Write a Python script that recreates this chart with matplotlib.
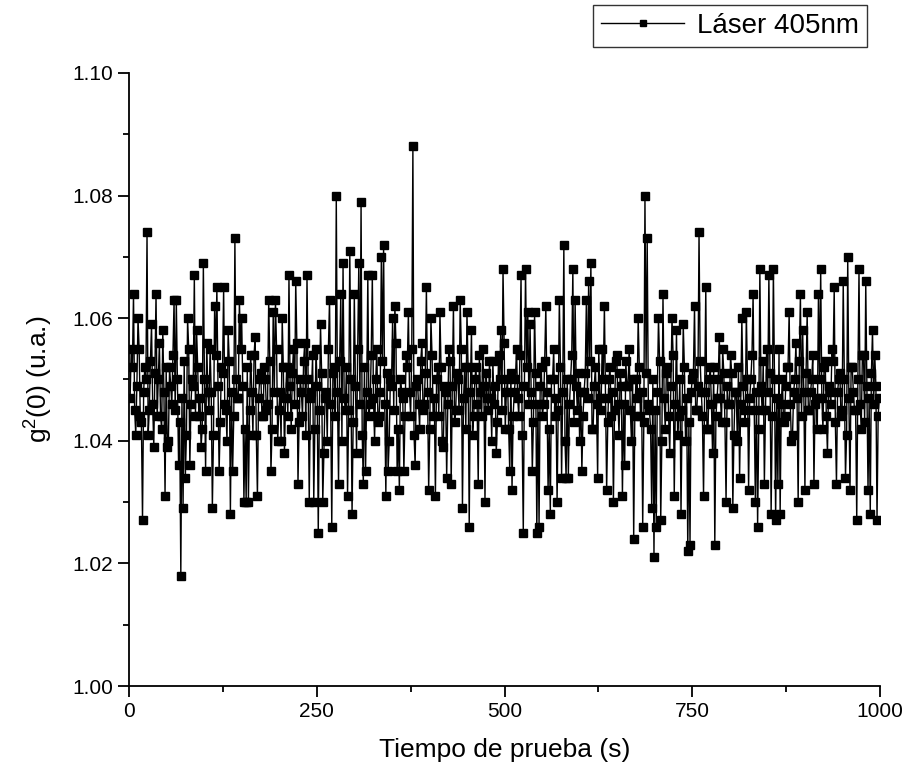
import numpy as np
import matplotlib
matplotlib.use("Agg")
import matplotlib.pyplot as plt
from matplotlib.ticker import MultipleLocator

plt.rcParams['font.family'] = ['Liberation Sans', 'DejaVu Sans']
plt.rcParams['mathtext.fontset'] = 'custom'
plt.rcParams['mathtext.rm'] = 'Liberation Sans'
plt.rcParams['mathtext.it'] = 'Liberation Sans'

# tiempo de prueba (s), una medida cada 1.5 s
tiempo = np.arange(1.5, 1000, 1.5)

g2 = [
    1.055, 1.064, 1.041, 1.060, 1.044, 1.027, 1.052, 1.074, 1.045, 1.059,
    1.039, 1.064, 1.050, 1.044, 1.058, 1.031, 1.039, 1.052, 1.046, 1.063,
    1.063, 1.036, 1.018, 1.029, 1.034, 1.060, 1.036, 1.050, 1.067, 1.058,
    1.044, 1.039, 1.069, 1.035, 1.048, 1.055, 1.029, 1.062, 1.065, 1.035,
    1.052, 1.065, 1.045, 1.058, 1.028, 1.035, 1.073, 1.047, 1.063, 1.060,
    1.030, 1.030, 1.030, 1.054, 1.041, 1.057, 1.031, 1.050, 1.044, 1.052,
    1.045, 1.063, 1.035, 1.061, 1.063, 1.040, 1.048, 1.060, 1.038, 1.052,
    1.067, 1.042, 1.055, 1.066, 1.033, 1.050, 1.044, 1.056, 1.067, 1.030,
    1.048, 1.030, 1.055, 1.025, 1.059, 1.030, 1.047, 1.040, 1.063, 1.026,
    1.052, 1.080, 1.033, 1.064, 1.069, 1.045, 1.031, 1.071, 1.028, 1.064,
    1.038, 1.069, 1.079, 1.033, 1.035, 1.067, 1.046, 1.067, 1.040, 1.055,
    1.044, 1.070, 1.072, 1.031, 1.035, 1.050, 1.060, 1.062, 1.035, 1.032,
    1.048, 1.035, 1.054, 1.061, 1.044, 1.088, 1.036, 1.050, 1.042, 1.056,
    1.046, 1.065, 1.032, 1.060, 1.044, 1.031, 1.052, 1.061, 1.040, 1.049,
    1.034, 1.055, 1.033, 1.062, 1.045, 1.050, 1.063, 1.029, 1.052, 1.061,
    1.026, 1.058, 1.044, 1.052, 1.033, 1.048, 1.055, 1.030, 1.047, 1.053,
    1.040, 1.046, 1.038, 1.054, 1.058, 1.068, 1.042, 1.050, 1.035, 1.032,
    1.048, 1.055, 1.044, 1.067, 1.025, 1.068, 1.061, 1.059, 1.035, 1.061,
    1.025, 1.026, 1.052, 1.046, 1.062, 1.032, 1.028, 1.050, 1.044, 1.030,
    1.063, 1.034, 1.072, 1.034, 1.034, 1.050, 1.068, 1.063, 1.045, 1.040,
    1.035, 1.048, 1.063, 1.066, 1.069, 1.042, 1.052, 1.034, 1.047, 1.055,
    1.062, 1.032, 1.050, 1.044, 1.030, 1.053, 1.046, 1.051, 1.031, 1.036,
    1.049, 1.055, 1.040, 1.024, 1.050, 1.060, 1.044, 1.026, 1.080, 1.073,
    1.045, 1.029, 1.021, 1.026, 1.060, 1.027, 1.064, 1.042, 1.052, 1.038,
    1.060, 1.031, 1.058, 1.044, 1.028, 1.059, 1.040, 1.022, 1.023, 1.050,
    1.062, 1.045, 1.074, 1.048, 1.031, 1.065, 1.042, 1.052, 1.038, 1.023,
    1.047, 1.057, 1.043, 1.051, 1.030, 1.046, 1.054, 1.029, 1.048, 1.040,
    1.034, 1.060, 1.045, 1.061, 1.032, 1.050, 1.064, 1.030, 1.026, 1.068,
    1.045, 1.033, 1.055, 1.067, 1.028, 1.068, 1.027, 1.033, 1.028, 1.050,
    1.044, 1.052, 1.061, 1.040, 1.048, 1.056, 1.030, 1.064, 1.058, 1.032,
    1.061, 1.045, 1.050, 1.033, 1.047, 1.064, 1.068, 1.042, 1.053, 1.038,
    1.048, 1.055, 1.065, 1.033, 1.050, 1.044, 1.066, 1.034, 1.070, 1.032,
    1.052, 1.045, 1.027, 1.068, 1.042, 1.054, 1.066, 1.032, 1.028, 1.058,
    1.054, 1.027, 1.047,
]

# medidas intermedias (t = 1.5, 4.5, 7.5 ... s), la banda central
g2_intermedio = [
    1.047, 1.052, 1.045, 1.049, 1.055, 1.043, 1.048, 1.050, 1.041, 1.053,
    1.046, 1.051, 1.044, 1.056, 1.042, 1.048, 1.052, 1.040, 1.049, 1.054,
    1.045, 1.050, 1.043, 1.047, 1.053, 1.041, 1.055, 1.046, 1.049, 1.044,
    1.052, 1.047, 1.042, 1.050, 1.056, 1.045, 1.048, 1.041, 1.054, 1.049,
    1.043, 1.051, 1.046, 1.040, 1.053, 1.048, 1.044, 1.050, 1.047, 1.055,
    1.049, 1.042, 1.052, 1.045, 1.048, 1.054, 1.041, 1.047, 1.051, 1.044,
    1.050, 1.046, 1.053, 1.042, 1.048, 1.055, 1.045, 1.040, 1.052, 1.047,
    1.044, 1.049, 1.051, 1.046, 1.056, 1.043, 1.048, 1.053, 1.041, 1.050,
    1.047, 1.054, 1.042, 1.049, 1.045, 1.051, 1.038, 1.048, 1.055, 1.046,
    1.051, 1.044, 1.048, 1.053, 1.040, 1.047, 1.052, 1.045, 1.050, 1.043,
    1.049, 1.055, 1.046, 1.041, 1.052, 1.048, 1.044, 1.054, 1.047, 1.050,
    1.043, 1.048, 1.053, 1.046, 1.051, 1.040, 1.049, 1.045, 1.056, 1.042,
    1.050, 1.047, 1.044, 1.052, 1.048, 1.055, 1.041, 1.049, 1.046, 1.053,
    1.045, 1.051, 1.048, 1.042, 1.054, 1.047, 1.050, 1.044, 1.052, 1.039,
    1.048, 1.046, 1.053, 1.049, 1.043, 1.051, 1.045, 1.055, 1.047, 1.042,
    1.052, 1.048, 1.041, 1.050, 1.046, 1.054, 1.044, 1.049, 1.051, 1.045,
    1.047, 1.053, 1.049, 1.043, 1.050, 1.045, 1.056, 1.048, 1.042, 1.051,
    1.044, 1.050, 1.047, 1.054, 1.041, 1.049, 1.052, 1.046, 1.048, 1.043,
    1.051, 1.046, 1.049, 1.044, 1.053, 1.048, 1.042, 1.050, 1.055, 1.047,
    1.045, 1.052, 1.048, 1.040, 1.050, 1.046, 1.054, 1.043, 1.049, 1.051,
    1.048, 1.044, 1.051, 1.047, 1.053, 1.042, 1.049, 1.046, 1.055, 1.045,
    1.050, 1.047, 1.043, 1.052, 1.048, 1.045, 1.054, 1.041, 1.049, 1.046,
    1.053, 1.049, 1.045, 1.050, 1.044, 1.047, 1.052, 1.048, 1.043, 1.051,
    1.046, 1.042, 1.050, 1.045, 1.048, 1.053, 1.040, 1.047, 1.051, 1.044,
    1.049, 1.054, 1.046, 1.041, 1.050, 1.045, 1.052, 1.047, 1.043, 1.048,
    1.051, 1.045, 1.049, 1.053, 1.044, 1.048, 1.042, 1.050, 1.046, 1.052,
    1.044, 1.050, 1.047, 1.055, 1.043, 1.049, 1.046, 1.051, 1.041, 1.048,
    1.052, 1.046, 1.049, 1.043, 1.050, 1.047, 1.054, 1.045, 1.048, 1.042,
    1.049, 1.053, 1.045, 1.048, 1.051, 1.044, 1.050, 1.047, 1.055, 1.046,
    1.043, 1.049, 1.052, 1.046, 1.041, 1.050, 1.047, 1.053, 1.044, 1.048,
    1.051, 1.045, 1.048, 1.054, 1.046, 1.042, 1.050, 1.047, 1.052, 1.044,
    1.049, 1.046, 1.053, 1.043, 1.048, 1.051, 1.045, 1.050, 1.041, 1.047,
    1.052, 1.048, 1.045, 1.050, 1.046, 1.054, 1.043, 1.049, 1.047, 1.051,
    1.046, 1.049, 1.044,
]

serie = np.column_stack((g2_intermedio, g2)).ravel()

fig = plt.figure(figsize=(9.11, 7.84), dpi=100)
ax = fig.add_axes([0.1416, 0.125, 0.8244, 0.782])

ax.plot(tiempo, serie, color='black', lw=1.0, marker='s', markersize=5.3,
        label='Láser 405nm')

ax.set_xlim(0, 1000)
ax.set_ylim(1.00, 1.10)
ax.xaxis.set_major_locator(MultipleLocator(250))
ax.xaxis.set_minor_locator(MultipleLocator(125))
ax.yaxis.set_major_locator(MultipleLocator(0.02))
ax.yaxis.set_minor_locator(MultipleLocator(0.01))
ax.yaxis.set_major_formatter(plt.FormatStrFormatter('%.2f'))

for s in ['top', 'right']:
    ax.spines[s].set_visible(False)
for s in ['left', 'bottom']:
    ax.spines[s].set_linewidth(1.3)
ax.tick_params(which='major', direction='out', length=8, width=1.3, labelsize=15)
ax.tick_params(which='minor', direction='out', length=4, width=1.3)

ax.set_xlabel('Tiempo de prueba (s)', fontsize=19, labelpad=12)
ax.set_ylabel('g$^2$(0) (u.a.)', fontsize=19, labelpad=12)

leg = fig.legend(loc='upper right', bbox_to_anchor=(0.952, 0.994), fontsize=20,
                 frameon=True, fancybox=False, edgecolor='black',
                 handlelength=3.0, borderpad=0.3, handletextpad=0.45,
                 borderaxespad=0, markerscale=0.8)
leg.get_frame().set_linewidth(1.0)

plt.savefig('out.png', dpi=100)
